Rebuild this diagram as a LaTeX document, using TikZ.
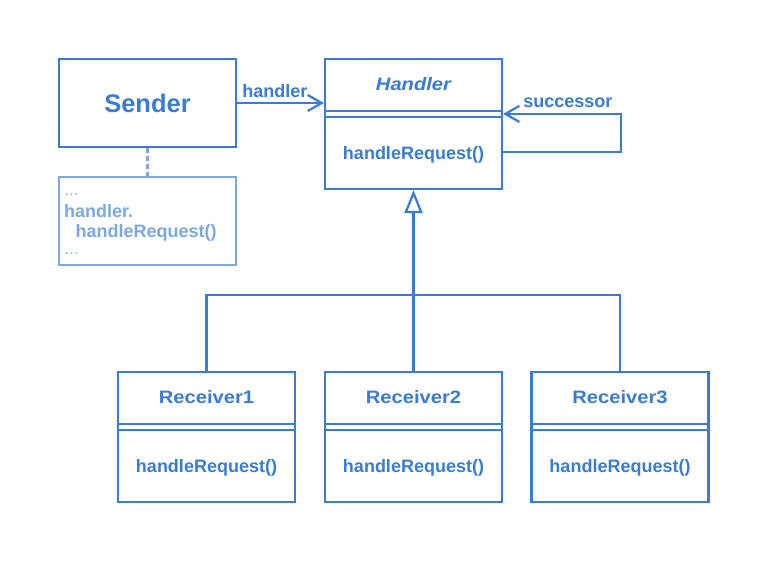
\documentclass[tikz,border=0pt]{standalone}
\usepackage{fontspec}
\setmainfont{Liberation Sans}
\usepackage{graphicx}
\usepackage{tikz}
\usetikzlibrary{arrows.meta, calc}
\definecolor{umlblue}{HTML}{3A7BD5}
\definecolor{noteblue}{HTML}{7DA7E3}
\newcommand{\clsname}[1]{\scalebox{1.12}[1]{#1}}
\tikzset{
  classbox/.style={draw=umlblue, line width=2.2pt, minimum width=177pt, minimum height=130pt, inner sep=0pt},
  plainbox/.style={draw=umlblue, line width=2.2pt, minimum width=177pt, minimum height=88pt, inner sep=0pt},
  notebox/.style={draw=noteblue, line width=2.2pt, minimum width=177pt, minimum height=88pt, inner sep=0pt},
  divider/.style={draw=umlblue, line width=1.5pt},
  classtext/.style={text=umlblue, font=\fontsize{18}{20}\selectfont\bfseries, inner sep=0pt},
  notetext/.style={text=noteblue, font=\fontsize{18}{20}\selectfont\bfseries, inner sep=0pt, anchor=base west},
  lbl/.style={text=umlblue, font=\fontsize{18}{20}\selectfont\bfseries, inner sep=0pt, anchor=south west},
  conn/.style={draw=umlblue, line width=2.2pt},
  assoc/.style={conn, -{Straight Barb[length=14pt, width=16pt]}},
  inherit/.style={conn, -{Triangle[open, length=23pt, width=18pt, fill=white]}},
}
\begin{document}
\begin{tikzpicture}[x=1pt, y=-1pt]
  \useasboundingbox (0,0) rectangle (769,563);
  % sender and its note
  \node[plainbox] (sender) at (147.5,103) {};
  \node[text=umlblue, font=\fontsize{25.5}{28}\selectfont\bfseries, inner sep=0pt] (sendername) at (sender) {Sender};
  \node[notebox] (note) at (147.5,221) {};
  \node[notetext, font=\fontsize{15}{16}\selectfont] (note1) at ([shift={(6pt,-19.5pt)}]note.north west) {\ldots};
  \node[notetext] (note2) at ([shift={(6pt,-42pt)}]note.north west) {handler.};
  \node[notetext] (note3) at ([shift={(17.5pt,-62pt)}]note.north west) {handleRequest()};
  \node[notetext, font=\fontsize{15}{16}\selectfont] (note4) at ([shift={(6pt,-79pt)}]note.north west) {\ldots};
  \draw[draw=noteblue, line width=2.2pt, dash pattern=on 5pt off 3pt] (sender.south) -- (note.north);
  % abstract handler
  \node[classbox] (handler) at (413.5,124) {};
  \draw[divider] ([yshift=-53pt]handler.north west) -- ([yshift=-53pt]handler.north east);
  \draw[divider] ([yshift=-59pt]handler.north west) -- ([yshift=-59pt]handler.north east);
  \node[classtext, font=\fontsize{18}{20}\selectfont\bfseries\itshape] (handlername) at ([yshift=-26.5pt]handler.north) {\clsname{Handler}};
  \node[classtext] (handlerop) at ([yshift=-97pt]handler.north) {handleRequest()};
  % concrete receivers
  \foreach \i/\x in {1/206.5, 2/413.5, 3/620} {
    \node[classbox] (recv\i) at (\x,437) {};
    \draw[divider] ([yshift=-53pt]recv\i.north west) -- ([yshift=-53pt]recv\i.north east);
    \draw[divider] ([yshift=-59pt]recv\i.north west) -- ([yshift=-59pt]recv\i.north east);
    \node[classtext] (recvname\i) at ([yshift=-26.5pt]recv\i.north) {\clsname{Receiver\i}};
    \node[classtext] (recvop\i) at ([yshift=-97pt]recv\i.north) {handleRequest()};
  }
  % connectors
  \draw[assoc] (sender.east) -- (sender.east -| handler.west);
  \node[lbl] (handlerlbl) at ([shift={(5pt,5.5pt)}]sender.east) {handler};
  \coordinate (loopend) at ([yshift=-56pt]handler.north east);
  \draw[assoc] ([yshift=-94pt]handler.north east) -- ++(118,0) |- (loopend);
  \node[lbl] (successorlbl) at ([shift={(20pt,6pt)}]loopend) {successor};
  \coordinate (bus) at (413.5,295);
  \draw[conn] (recv1.north) |- (bus -| recv3.north) -- (recv3.north);
  \draw[conn] (recv2.north) -- (bus);
  \draw[inherit] (bus) -- (handler.south);
\end{tikzpicture}
\end{document}
